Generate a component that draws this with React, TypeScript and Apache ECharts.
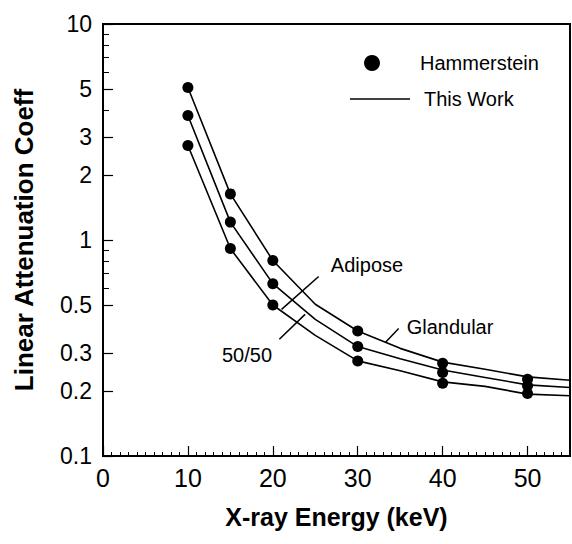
import React, { useEffect, useRef } from "react";
import * as echarts from "echarts";

const FONT = '"Liberation Sans", Arial, Helvetica, sans-serif';

// Hammerstein measured points
const energyPts = [10, 15, 20, 30, 40, 50];
const glandularPts = [5.08, 1.635, 0.804, 0.379, 0.269, 0.2268];
const mixPts = [3.77, 1.21, 0.628, 0.321, 0.2435, 0.2112];
const adiposePts = [2.74, 0.913, 0.5, 0.2756, 0.2174, 0.1949];

// "This Work" curves
const energyLine = [10, 15, 20, 25, 30, 35, 40, 45, 50, 55];
const glandularLine = [5.08, 1.635, 0.804, 0.504, 0.379, 0.315, 0.272, 0.252, 0.2325, 0.2244];
const mixLine = [3.77, 1.21, 0.628, 0.429, 0.321, 0.282, 0.25, 0.231, 0.2135, 0.2077];
const adiposeLine = [2.74, 0.913, 0.5, 0.362, 0.2756, 0.248, 0.2204, 0.21, 0.1934, 0.19];

// annotation leader lines [energy, coeff]
const adiposeLeader = [[25.4, 0.678], [21.03, 0.4775]];
const mixLeader = [[23.8, 0.4527], [20.77, 0.347]];
const glandularLeader = [[34.82, 0.389], [33.25, 0.335]];

// ticks
const yMajor = [0.1, 0.2, 0.3, 0.5, 1, 2, 3, 5, 10];
const yMinor = [0.6, 0.7, 0.8, 0.9, 4, 6, 7, 8, 9];
const xMajor = [0, 10, 20, 30, 40, 50];
const xMinor = Array.from({ length: 55 }, (_, i) => i + 1).filter((v) => v % 10 !== 0);

const lg = (v: number) => Math.log10(v);
const pairs = (xs: number[], ys: number[]) => xs.map((x, i) => [x, lg(ys[i])]);
const leader = (pts: number[][]) => pts.map((p) => [p[0], lg(p[1])]);

export default function App() {
  const ref = useRef<HTMLDivElement>(null);
  useEffect(() => {
    if (!ref.current) return;
    const chart = echarts.init(ref.current, null, { renderer: "svg" });
    const lineStyle = { color: "#000", width: 1.6 };
    const curve = (name: string, ys: number[]) => ({
      type: "line",
      name,
      data: pairs(energyLine, ys),
      symbol: "none",
      lineStyle,
      silent: true,
      z: 2,
    });
    const dots = (name: string, ys: number[]) => ({
      type: "scatter",
      name,
      data: pairs(energyPts, ys),
      symbol: "circle",
      symbolSize: 11,
      itemStyle: { color: "#000", opacity: 1 },
      silent: true,
      z: 3,
    });
    const lead = (pts: number[][]) => ({
      type: "line",
      data: leader(pts),
      symbol: "none",
      lineStyle: { color: "#000", width: 1.5 },
      silent: true,
      z: 2,
    });
    chart.setOption({
      animation: false,
      backgroundColor: "#fff",
      textStyle: { fontFamily: FONT },
      grid: {
        left: 103,
        right: 2,
        top: 24,
        bottom: 88,
        show: true,
        borderColor: "#000",
        borderWidth: 2,
        backgroundColor: "transparent",
      },
      xAxis: [
        {
          type: "value",
          min: 0,
          max: 55,
          name: "X-ray Energy (keV)",
          nameLocation: "middle",
          nameGap: 48,
          nameTextStyle: { fontFamily: FONT, fontSize: 25, fontWeight: "bold", color: "#000" },
          axisLine: { show: true, onZero: false, lineStyle: { color: "#000", width: 2 } },
          axisTick: { show: true, inside: true, length: 10, customValues: xMajor, lineStyle: { color: "#000", width: 1.2 } },
          axisLabel: { customValues: xMajor, fontSize: 25, color: "#000", margin: 9, fontFamily: FONT },
          splitLine: { show: false },
        },
        {
          type: "value",
          min: 0,
          max: 55,
          position: "bottom",
          axisLine: { show: false, onZero: false },
          axisTick: { show: true, inside: true, length: 4, customValues: xMinor, lineStyle: { color: "#000", width: 1 } },
          axisLabel: { show: false },
          splitLine: { show: false },
        },
      ],
      yAxis: [
        {
          type: "value",
          min: -1,
          max: 1,
          name: "Linear Attenuation Coeff",
          nameLocation: "middle",
          nameGap: 66,
          nameTextStyle: { fontFamily: FONT, fontSize: 26, fontWeight: "bold", color: "#000" },
          axisLine: { show: true, onZero: false, lineStyle: { color: "#000", width: 2 } },
          axisTick: { show: true, inside: true, length: 10, customValues: yMajor.map(lg), lineStyle: { color: "#000", width: 1.2 } },
          axisLabel: {
            customValues: yMajor.map(lg),
            fontSize: 23,
            color: "#000",
            margin: 11,
            fontFamily: FONT,
            formatter: (v: number) => String(Math.round(Math.pow(10, v) * 100) / 100),
          },
          splitLine: { show: false },
        },
        {
          type: "value",
          min: -1,
          max: 1,
          position: "left",
          axisLine: { show: false, onZero: false },
          axisTick: { show: true, inside: true, length: 6, customValues: yMinor.map(lg), lineStyle: { color: "#000", width: 1 } },
          axisLabel: { show: false },
          splitLine: { show: false },
        },
      ],
      series: [
        curve("Glandular", glandularLine),
        curve("50/50", mixLine),
        curve("Adipose", adiposeLine),
        dots("Hammerstein Glandular", glandularPts),
        dots("Hammerstein 50/50", mixPts),
        dots("Hammerstein Adipose", adiposePts),
        lead(adiposeLeader),
        lead(mixLeader),
        lead(glandularLeader),
      ],
      graphic: [
        { type: "circle", shape: { cx: 372, cy: 63, r: 8 }, style: { fill: "#000" } },
        {
          type: "text",
          x: 420,
          y: 63,
          style: { text: "Hammerstein", font: `20px ${FONT}`, fill: "#000", textAlign: "left", textVerticalAlign: "middle" },
        },
        { type: "line", shape: { x1: 350, y1: 99, x2: 410, y2: 99 }, style: { stroke: "#000", lineWidth: 1.6 } },
        {
          type: "text",
          x: 424,
          y: 99,
          style: { text: "This Work", font: `20px ${FONT}`, fill: "#000", textAlign: "left", textVerticalAlign: "middle" },
        },
        {
          type: "text",
          x: 367,
          y: 265,
          style: { text: "Adipose", font: `20px ${FONT}`, fill: "#000", textAlign: "center", textVerticalAlign: "middle" },
        },
        {
          type: "text",
          x: 450,
          y: 327,
          style: { text: "Glandular", font: `20px ${FONT}`, fill: "#000", textAlign: "center", textVerticalAlign: "middle" },
        },
        {
          type: "text",
          x: 247,
          y: 355,
          style: { text: "50/50", font: `20px ${FONT}`, fill: "#000", textAlign: "center", textVerticalAlign: "middle" },
        },
      ],
    });
    return () => chart.dispose();
  }, []);
  return <div ref={ref} style={{ position: "fixed", left: 0, top: 0, width: 572, height: 544 }} />;
}
